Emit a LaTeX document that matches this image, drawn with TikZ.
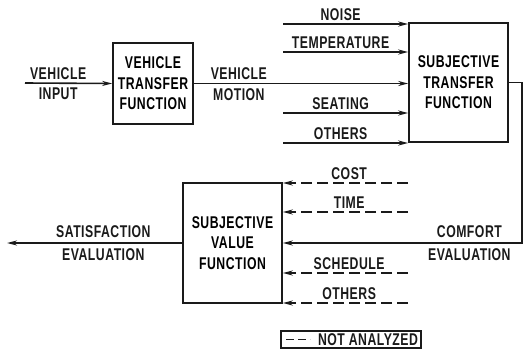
\documentclass[tikz,border=0pt]{standalone}
\usepackage{fontspec}
\newfontfamily\diafont{Liberation Sans Bold}[FakeStretch=0.72, LetterSpace=3]
\usetikzlibrary{arrows.meta, positioning, calc}
\definecolor{cink}{HTML}{1A1A1A}
\tikzset{
  every picture/.style={line width=1.6pt},
  fbox/.style={draw=cink, align=center, inner sep=2pt, font=\diafont\fontsize{17}{20.5}\selectfont},
  flow/.style={-{Stealth[length=10pt, width=5pt]}, draw=cink, line width=1.6pt},
  flowdash/.style={flow, dash pattern=on 11pt off 5pt},
  lbl/.style={font=\diafont\fontsize{17}{20}\selectfont, text=cink, inner sep=3pt},
}

\begin{document}
\begin{tikzpicture}[x=1pt, y=-1pt]
  \useasboundingbox (0,0) rectangle (525,354);
  % blocks
  \node[fbox, minimum width=80pt, minimum height=81pt] (vtf) at (153,83.5) {VEHICLE\\TRANSFER\\FUNCTION};
  \node[fbox, minimum width=99pt, minimum height=119pt] (stf) at (458.5,82.5) {SUBJECTIVE\\TRANSFER\\FUNCTION};
  \node[fbox, minimum width=99pt, minimum height=120pt] (svf) at (232.5,243) {SUBJECTIVE\\VALUE\\FUNCTION};
  % vehicle side
  \coordinate (vin) at (25,83);
  \draw[flow] (vin) -- node[lbl, pos=0.38, anchor=south] (vinA) {VEHICLE} node[lbl, pos=0.38, anchor=north, inner sep=4pt] (vinB) {INPUT} (vtf.west);
  \draw[flow] (vtf.east) -- node[lbl, pos=0.21, anchor=south] (vmA) {VEHICLE} node[lbl, pos=0.21, anchor=north, inner sep=4pt] (vmB) {MOTION} (vtf.east -| stf.west);
  % inputs to subjective transfer
  \foreach \y/\txt [count=\i] in {24/NOISE, 52/TEMPERATURE, 113/SEATING, 143/OTHERS} {
    \coordinate (sti\i) at (283,\y);
    \draw[flow] (sti\i) -- node[lbl, pos=0.46, anchor=south] (stl\i) {\txt} (sti\i -| stf.west);
  }
  % back round to the value function
  \coordinate (bend) at (522,243);
  \draw[flow] (stf.east) -| (bend) -- node[lbl, pos=0.22, anchor=south, inner sep=5pt] (cfA) {COMFORT} node[lbl, pos=0.22, anchor=north, inner sep=5pt] (cfB) {EVALUATION} (svf.east);
  % inputs to subjective value
  \foreach \y/\txt [count=\i] in {183/COST, 212/TIME, 273/SCHEDULE, 303/OTHERS} {
    \coordinate (svi\i) at (408,\y);
    \draw[flowdash] (svi\i) -- node[lbl, pos=0.47, anchor=south] (svl\i) {\txt} (svi\i -| svf.east);
  }
  % output
  \coordinate (sout) at (7,243);
  \draw[flow] (svf.west) -- node[lbl, pos=0.45, anchor=south, inner sep=5pt] (saA) {SATISFACTION} node[lbl, pos=0.45, anchor=north, inner sep=5pt] (saB) {EVALUATION} (sout);
  % legend
  \node[lbl, draw=cink, line width=1.2pt, minimum height=17pt, inner xsep=3pt, inner ysep=1pt] (legend) at (351,339.5) {\hspace{34pt}NOT ANALYZED};
  \draw[cink, line width=1.4pt, dash pattern=on 8pt off 4pt] ([xshift=6pt]legend.west) -- ++(24,0);
\end{tikzpicture}
\end{document}
